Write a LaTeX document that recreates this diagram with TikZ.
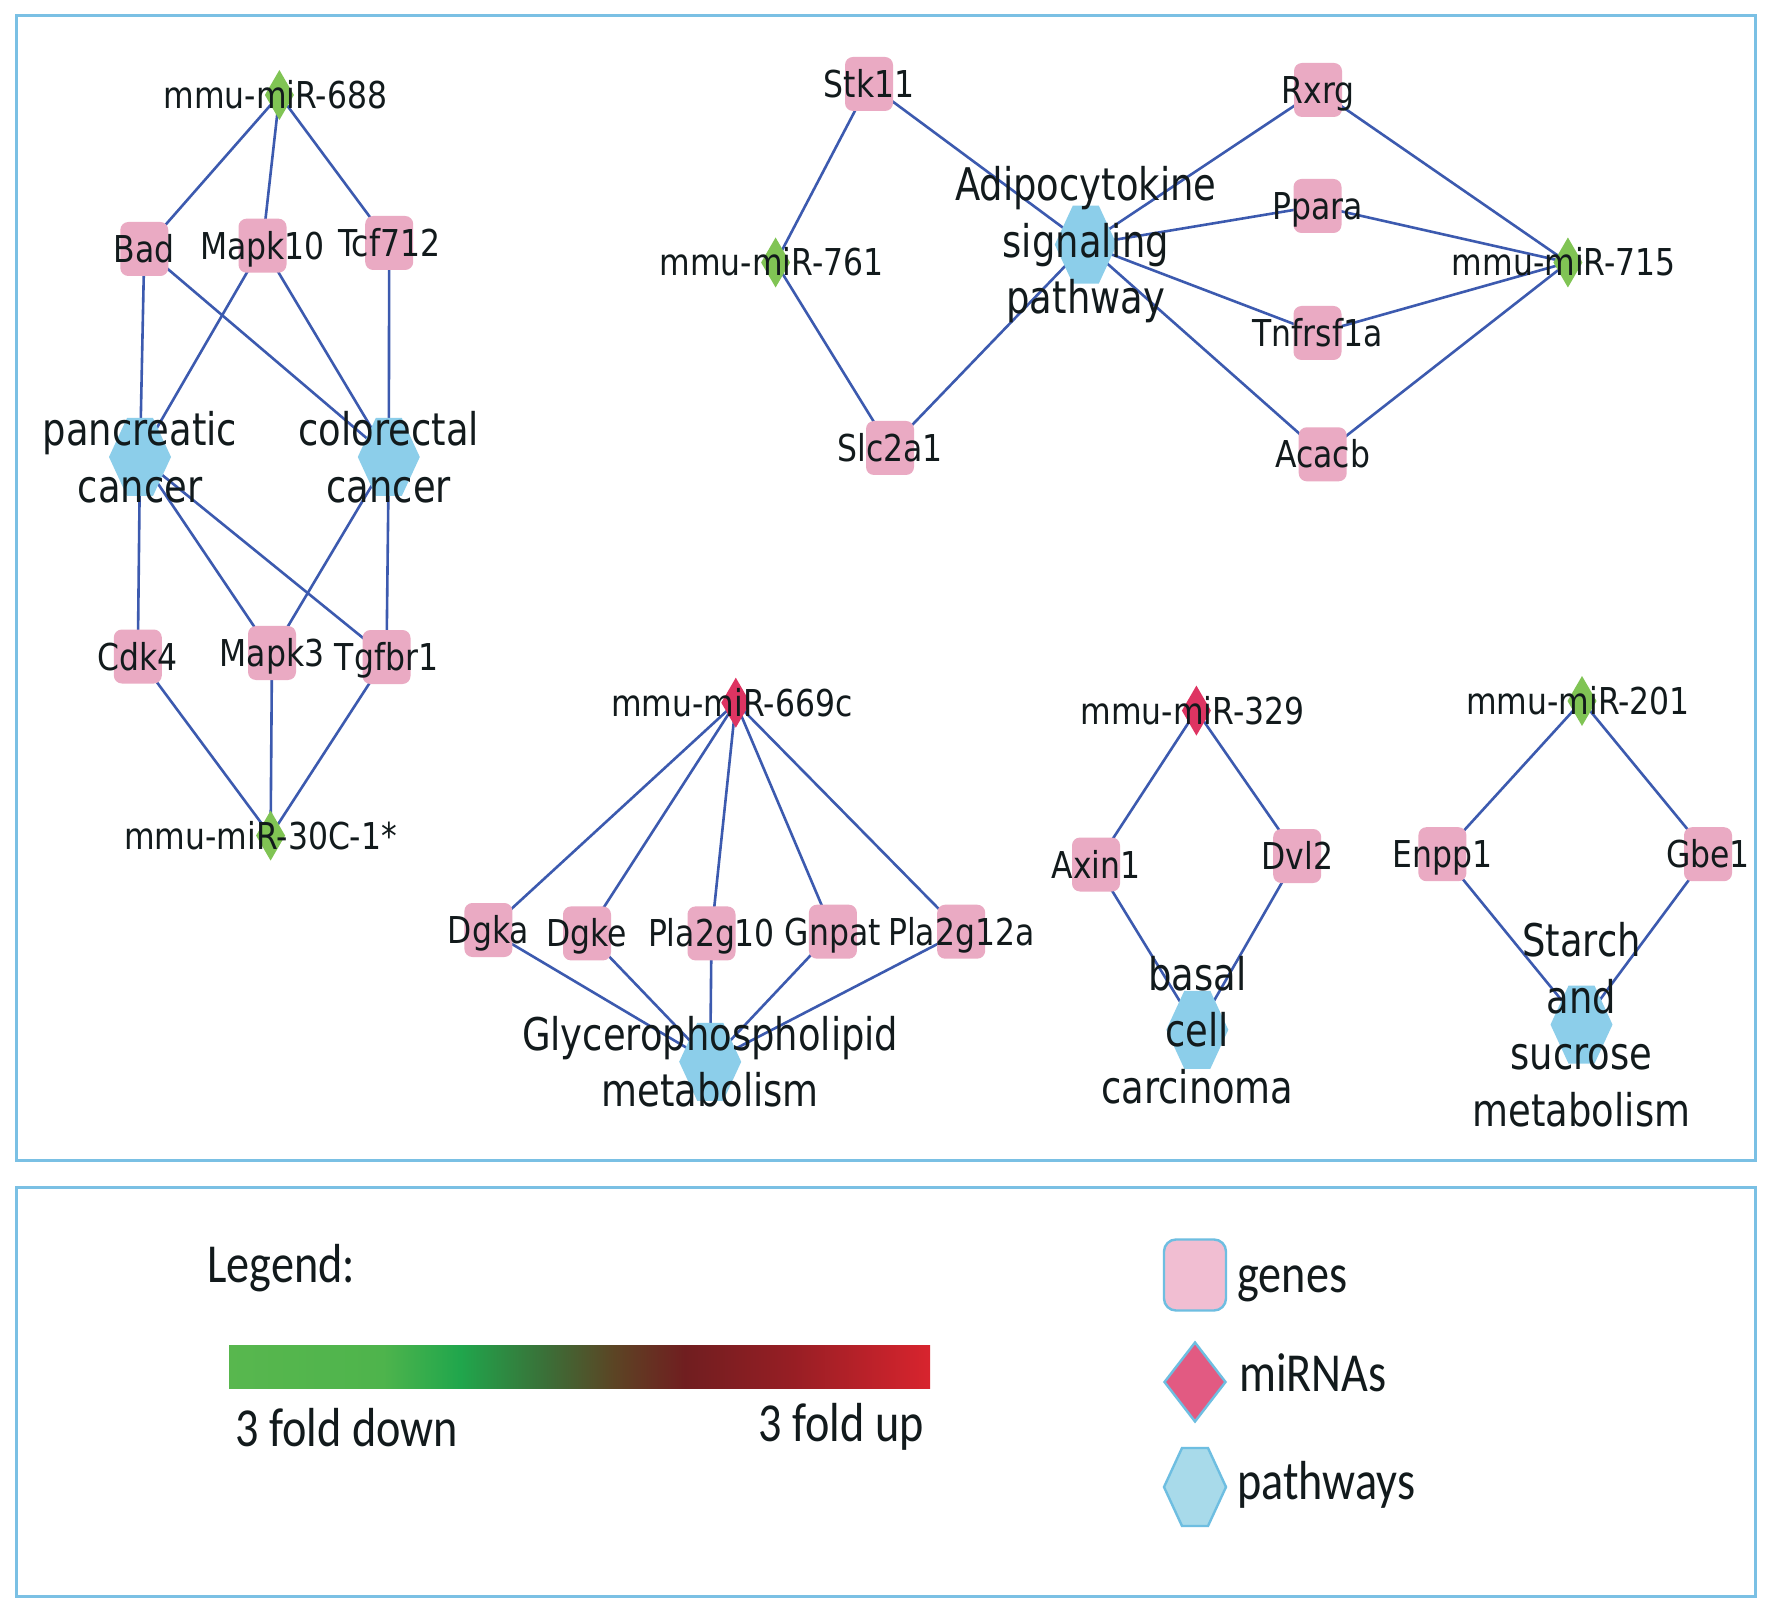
\documentclass[tikz,border=0pt]{standalone}
\usepackage{fontspec}
\setmainfont{DejaVu Sans}
\newfontfamily\labfont[FakeStretch=0.85]{DejaVu Sans}
\newfontfamily\bigfont[FakeStretch=0.82]{DejaVu Sans}
\newfontfamily\legfont[FakeStretch=0.84]{Carlito}
\usetikzlibrary{shapes.geometric}
\pgfdeclarelayer{back}
\pgfdeclarelayer{bg}
\pgfsetlayers{back,bg,main}
\definecolor{edgec}{RGB}{60,90,175}
\definecolor{genec}{RGB}{234,170,195}
\definecolor{greenc}{RGB}{128,196,84}
\definecolor{redc}{RGB}{222,52,98}
\definecolor{hexc}{RGB}{140,206,234}
\definecolor{boxc}{RGB}{122,192,228}
\definecolor{txtc}{RGB}{18,26,28}
\definecolor{lgene}{RGB}{241,190,210}
\definecolor{lmir}{RGB}{226,90,130}
\definecolor{lhex}{RGB}{168,218,234}
\definecolor{lborder}{RGB}{110,190,225}
\definecolor{g0}{RGB}{88,183,78}
\definecolor{g1}{RGB}{78,180,76}
\definecolor{g2}{RGB}{32,166,76}
\definecolor{g3}{RGB}{58,112,56}
\definecolor{g4}{RGB}{92,68,36}
\definecolor{g5}{RGB}{112,30,32}
\definecolor{g6}{RGB}{150,30,36}
\definecolor{g7}{RGB}{216,36,46}
\pgfdeclarehorizontalshading{foldshade}{100bp}{color(0bp)=(g0); color(25bp)=(g0); color(36bp)=(g1); color(41.5bp)=(g2); color(47.5bp)=(g3); color(52.5bp)=(g4); color(57.5bp)=(g5); color(65bp)=(g6); color(75bp)=(g7); color(100bp)=(g7)}
\newcommand\hexat[4]{%
  \path[#4] (#2-31,#3) -- (#2-13,#3-39) -- (#2+13,#3-39) -- (#2+31,#3) -- (#2+13,#3+39) -- (#2-13,#3+39) -- cycle;
  \node[hexn] (#1) at (#2,#3) {};}
\newcommand\diaat[4]{%
  \path[#4] (#2,#3-25) -- (#2+14.5,#3) -- (#2,#3+25) -- (#2-14.5,#3) -- cycle;
  \node[mirn] (#1) at (#2,#3) {};}
\tikzset{
  edge/.style={draw=edgec, line width=1.3pt},
  gene/.style={rectangle, rounded corners=4pt, fill=genec, minimum width=24pt, minimum height=27pt, inner sep=0pt},
  hexn/.style={rectangle, minimum width=31pt, minimum height=39pt, inner sep=0pt},
  mirn/.style={rectangle, minimum width=14pt, minimum height=25pt, inner sep=0pt},
  slab/.style={font=\labfont\fontsize{18.5}{22}\selectfont, text=txtc, inner sep=0pt, text height=13.5pt, text depth=0pt},
  mlab/.style={slab, xshift=-2pt},
  blab/.style={font=\bigfont\fontsize{22.5}{28.25}\selectfont, text=txtc, align=center, inner sep=0pt},
  leg/.style={font=\legfont\fontsize{27.5}{33}\selectfont, text=txtc, inner sep=0pt, anchor=base west},
  frame/.style={draw=boxc, line width=1.5pt},
}
\begin{document}
\begin{tikzpicture}[x=0.5pt,y=-0.5pt]
\useasboundingbox (0,0) rectangle (1772,1609);
\begin{pgfonlayer}{back}
\fill[white] (0,0) rectangle (1772,1609);
\end{pgfonlayer}
\draw[frame] (16,16) rectangle (1755,1160);
\draw[frame] (16,1187) rectangle (1755,1596);

% ---- cluster 1
\diaat{m688}{279.4}{95}{fill=greenc}
\node[gene] (bad) at (144.3,249) {};
\node[gene] (mapk10) at (262.5,245.7) {};
\node[gene] (tcf) at (389.2,243) {};
\hexat{panc}{140}{457}{fill=hexc}
\hexat{colo}{388.8}{457}{fill=hexc}
\node[gene] (cdk4) at (137.8,656.5) {};
\node[gene] (mapk3) at (272,653) {};
\node[gene] (tgfbr1) at (386.5,657) {};
\diaat{m30c}{270.6}{835.6}{fill=greenc}

% ---- cluster 2
\node[gene] (stk11) at (869,84) {};
\diaat{m761}{775.6}{262.5}{fill=greenc}
\node[gene] (slc2a1) at (890,448) {};
\hexat{adipo}{1085.8}{244.6}{fill=hexc}
\node[gene] (rxrg) at (1318,90) {};
\node[gene] (ppara) at (1317.5,206) {};
\node[gene] (tnf) at (1317.5,333) {};
\node[gene] (acacb) at (1322.7,454.3) {};
\diaat{m715}{1567.9}{262.5}{fill=greenc}

% ---- cluster 3
\diaat{m669}{735.8}{702.7}{fill=redc}
\node[gene] (dgka) at (488.4,930) {};
\node[gene] (dgke) at (587,933.4) {};
\node[gene] (pla10) at (711.5,933.4) {};
\node[gene] (gnpat) at (832.9,931.7) {};
\node[gene] (pla12) at (961.2,931.7) {};
\hexat{glyc}{710.2}{1061.8}{fill=hexc}

% ---- cluster 4
\diaat{m329}{1196.4}{710.6}{fill=redc}
\node[gene] (axin1) at (1096,864.5) {};
\node[gene] (dvl2) at (1297.2,856) {};
\hexat{basal}{1197.3}{1029.8}{fill=hexc}

% ---- cluster 5
\diaat{m201}{1582}{701}{fill=greenc}
\node[gene] (enpp1) at (1442.4,854.2) {};
\node[gene] (gbe1) at (1708,854.2) {};
\hexat{starch}{1581.5}{1024.6}{fill=hexc}

% ---- edges
\begin{pgfonlayer}{bg}
\foreach \a/\b in {m688/bad, m688/mapk10, m688/tcf, bad/panc, bad/colo, mapk10/panc, mapk10/colo, tcf/colo,
  panc/cdk4, panc/mapk3, panc/tgfbr1, colo/mapk3, colo/tgfbr1, cdk4/m30c, mapk3/m30c, tgfbr1/m30c,
  stk11/m761, m761/slc2a1, stk11/adipo, slc2a1/adipo, adipo/rxrg, adipo/ppara, adipo/tnf, adipo/acacb,
  rxrg/m715, ppara/m715, tnf/m715, acacb/m715,
  m669/dgka, m669/dgke, m669/pla10, m669/gnpat, m669/pla12,
  dgka/glyc, dgke/glyc, pla10/glyc, gnpat/glyc, pla12/glyc,
  m329/axin1, m329/dvl2, axin1/basal, dvl2/basal,
  m201/enpp1, m201/gbe1, enpp1/starch, gbe1/starch}
  \draw[edge] (\a.center) -- (\b.center);
\end{pgfonlayer}

% ---- labels
\node[mlab] at (m688) {mmu-miR-688};
\node[slab] at (bad) {Bad};
\node[slab] at (mapk10) {Mapk10};
\node[slab] at (tcf) {Tcf712};
\node[blab] at (panc) {pancreatic\\cancer};
\node[blab] at (colo) {colorectal\\cancer};
\node[slab] at (cdk4) {Cdk4};
\node[slab] at (mapk3) {Mapk3};
\node[slab] at (tgfbr1) {Tgfbr1};
\node[mlab, xshift=-3pt] at (m30c) {mmu-miR-30C-1*};

\node[slab] at (stk11) {Stk11};
\node[mlab] at (m761) {mmu-miR-761};
\node[slab] at (slc2a1) {Slc2a1};
\node[blab] at (adipo) {Adipocytokine\\signaling\\pathway};
\node[slab] at (rxrg) {Rxrg};
\node[slab] at (ppara) {Ppara};
\node[slab] at (tnf) {Tnfrsf1a};
\node[slab] at (acacb) {Acacb};
\node[mlab] at (m715) {mmu-miR-715};

\node[mlab] at (m669) {mmu-miR-669c};
\node[slab] at (dgka) {Dgka};
\node[slab] at (dgke) {Dgke};
\node[slab] at (pla10) {Pla2g10};
\node[slab] at (gnpat) {Gnpat};
\node[slab] at (pla12) {Pla2g12a};
\node[blab] at (glyc) {Glycerophospholipid\\metabolism};

\node[mlab] at (m329) {mmu-miR-329};
\node[slab] at (axin1) {Axin1};
\node[slab] at (dvl2) {Dvl2};
\node[blab] at (basal) {basal\\cell\\carcinoma};

\node[mlab] at (m201) {mmu-miR-201};
\node[slab] at (enpp1) {Enpp1};
\node[slab] at (gbe1) {Gbe1};
\node[blab] at (starch) {Starch\\and\\sucrose\\metabolism};

% ---- legend
\node[leg] (legt) at (207,1282) {Legend:};
\shade[shading=foldshade] (229,1345) rectangle (930,1388);
\node[leg] (fdown) at (235,1446) {3 fold down};
\node[leg, anchor=base east] (fup) at (924,1441) {3 fold up};
\node[rectangle, rounded corners=6pt, fill=lgene, draw=lborder, line width=1.2pt, minimum width=31pt, minimum height=35.5pt, inner sep=0pt] (lg) at (1195,1275) {};
\node[diamond, fill=lmir, draw=lborder, line width=1.2pt, minimum width=31pt, minimum height=40pt, inner sep=0pt] (lm) at (1195,1382) {};
\hexat{lp}{1195}{1487}{fill=lhex, draw=lborder, line width=1.2pt}
\node[leg] at (1237,1292) {genes};
\node[leg] at (1239,1391) {miRNAs};
\node[leg] at (1237,1499) {pathways};
\end{tikzpicture}
\end{document}
